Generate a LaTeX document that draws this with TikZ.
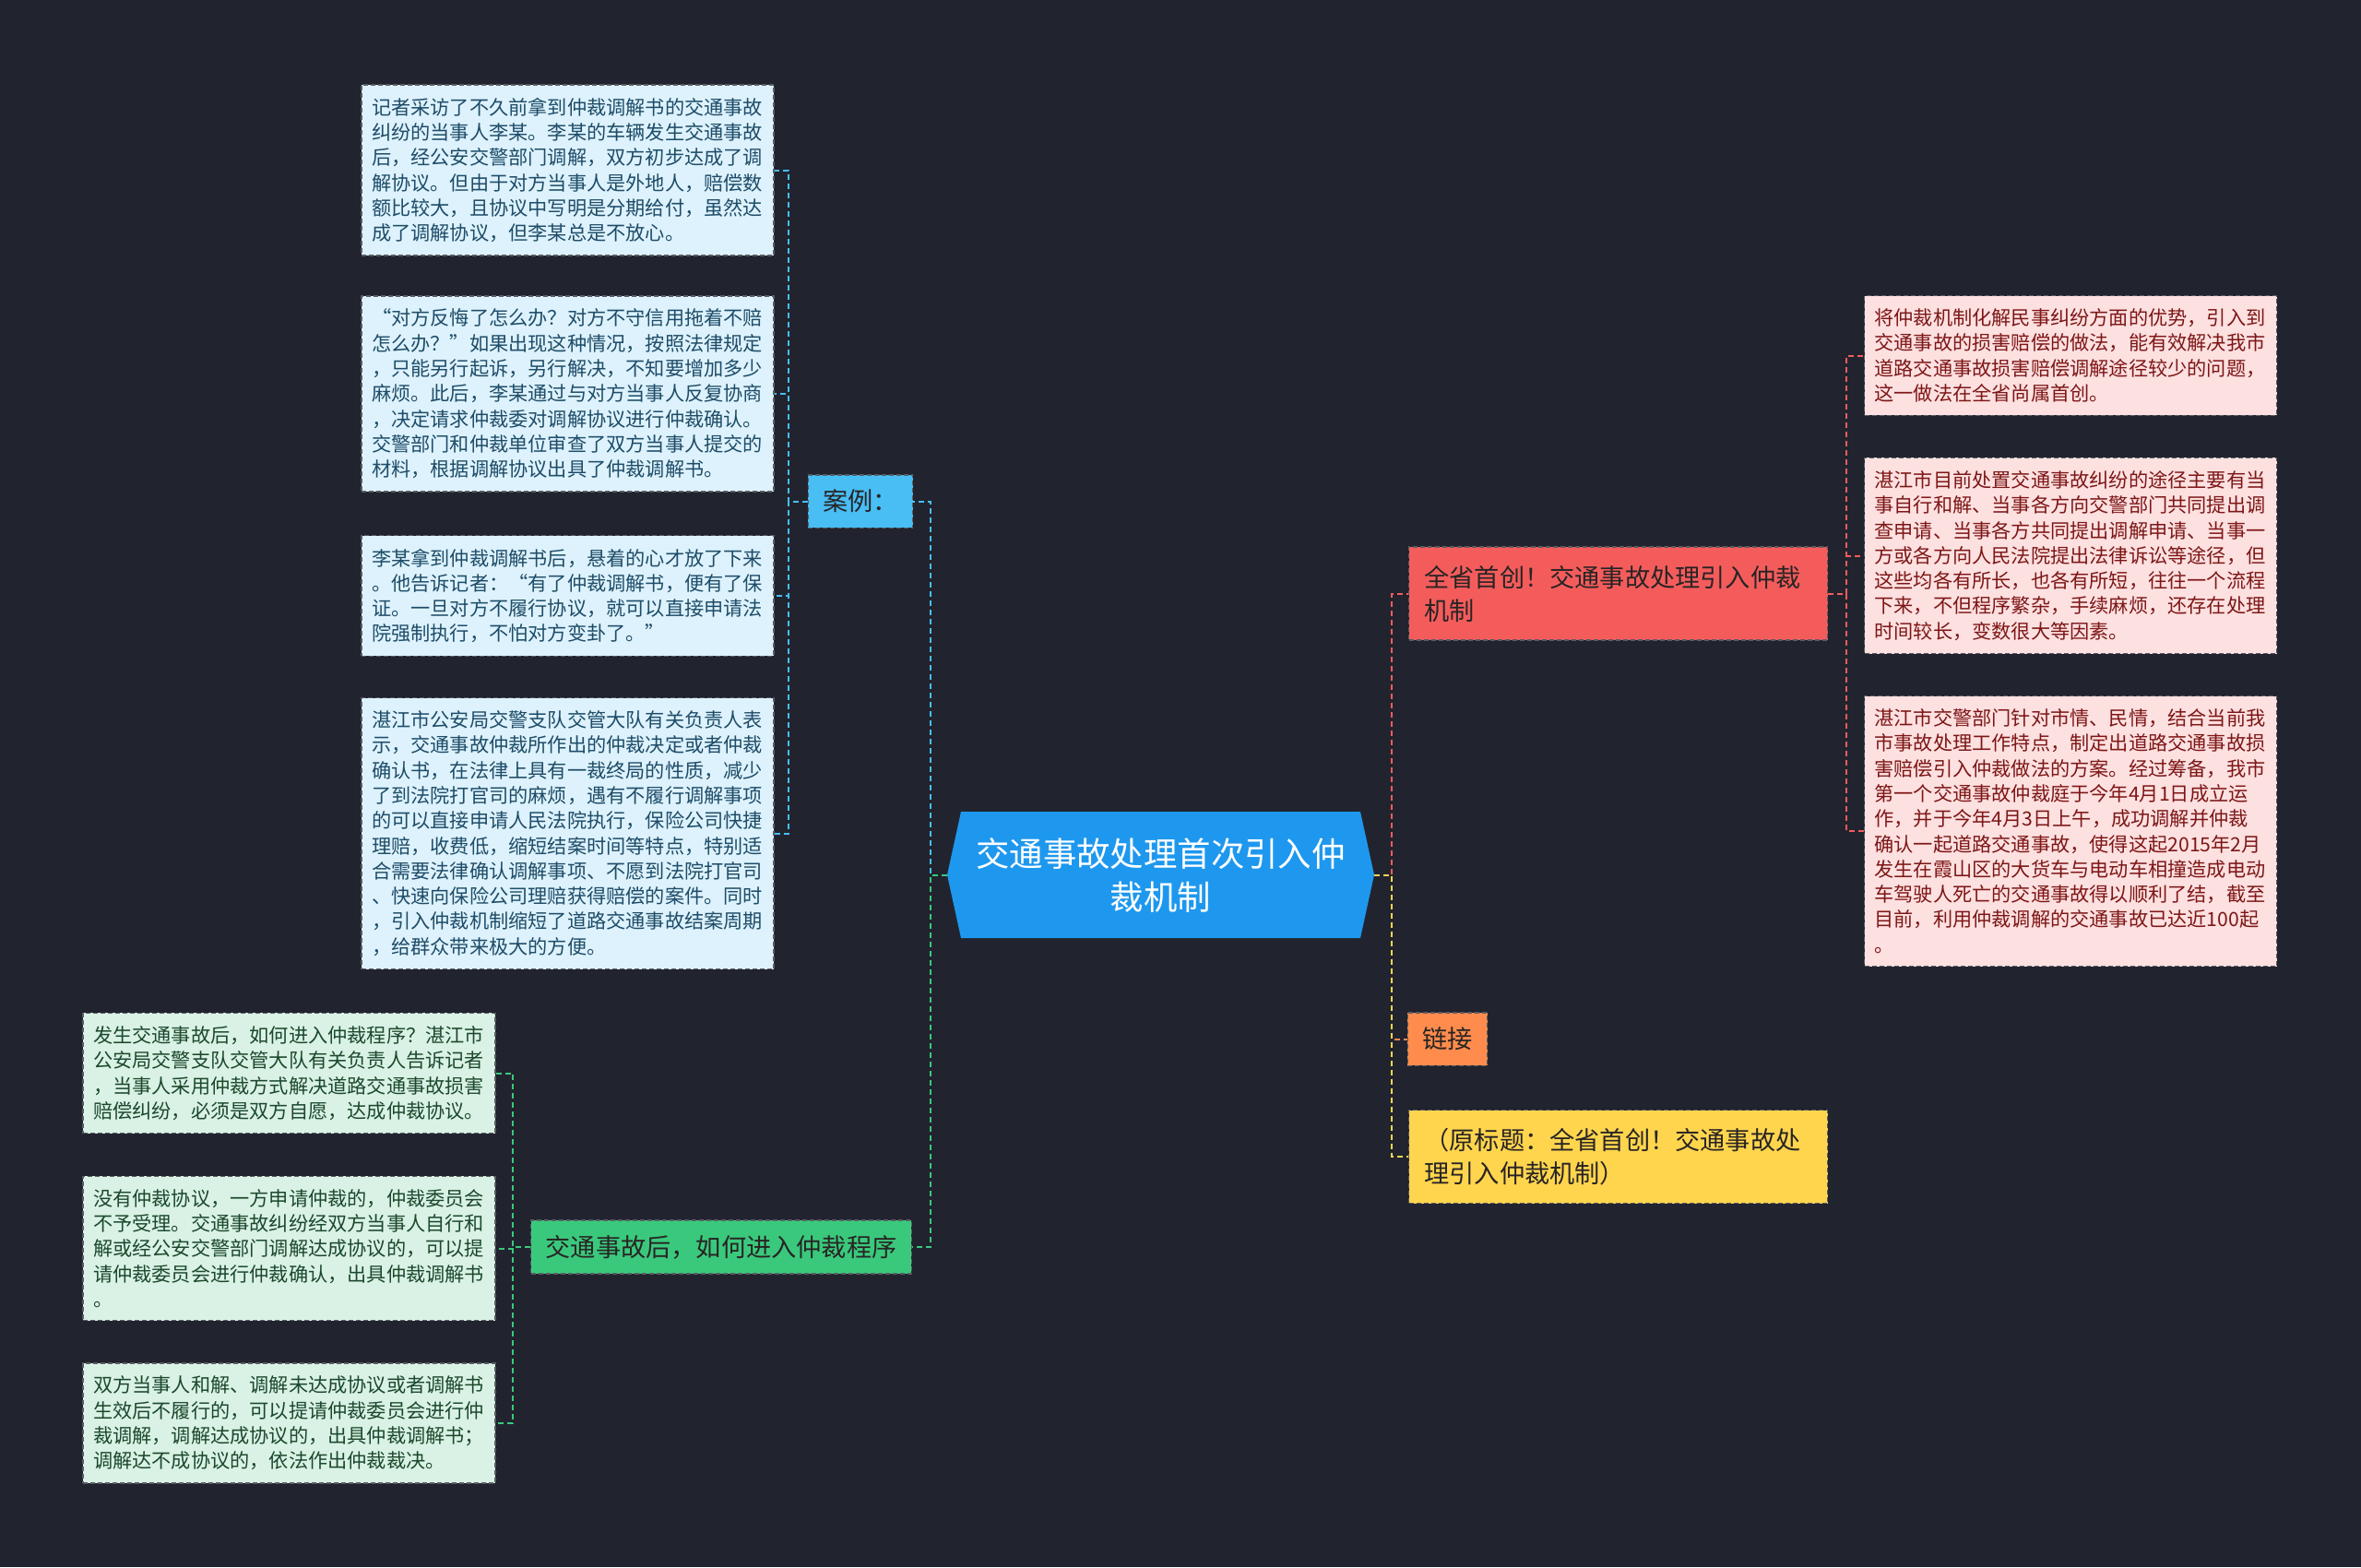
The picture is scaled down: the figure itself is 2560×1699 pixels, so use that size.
\documentclass[tikz,border=0pt]{standalone}
\usepackage{fontspec}
\setmainfont{Noto Sans CJK SC}
\definecolor{cBg}{RGB}{33,36,47}
\definecolor{cRoot}{RGB}{30,152,238}
\definecolor{cBlue}{RGB}{72,190,245}
\definecolor{cBlueFill}{RGB}{221,242,252}
\definecolor{cBlueText}{RGB}{30,76,104}
\definecolor{cGreen}{RGB}{58,201,124}
\definecolor{cGreenFill}{RGB}{217,242,229}
\definecolor{cGreenText}{RGB}{28,72,44}
\definecolor{cRed}{RGB}{244,92,92}
\definecolor{cRedFill}{RGB}{253,224,224}
\definecolor{cRedText}{RGB}{125,22,22}
\definecolor{cOrange}{RGB}{255,140,76}
\definecolor{cYellow}{RGB}{255,213,78}
\definecolor{cMidText}{RGB}{40,36,36}
\definecolor{cEdge}{RGB}{90,92,100}
\begin{document}
\begin{tikzpicture}[x=0.5pt,y=-0.5pt,
    leafbox/.style={draw=cEdge,dash pattern=on 2.5pt off 1.5pt,line width=0.6pt,
      text width=212.5pt,inner xsep=5.5pt,inner ysep=7pt,align=left,
      font=\fontsize{10.6}{13.65}\selectfont},
    midbox/.style={draw=cEdge,dash pattern=on 2.5pt off 1.5pt,line width=0.6pt,
      inner xsep=8pt,inner ysep=8pt,text=cMidText,
      font=\fontsize{13.6}{18}\selectfont},
    widebox/.style={midbox,text width=210pt,inner xsep=8.5pt,align=left,minimum height=50.5pt},
    rootbox/.style={minimum width=231.5pt,minimum height=68.5pt,align=center,text=white,
      font=\fontsize{18.2}{23.5}\selectfont},
    link/.style={line width=1pt,dash pattern=on 3pt off 2pt},
    bline/.style={link,draw=cBlue},
    gline/.style={link,draw=cGreen},
    rline/.style={link,draw=cRed},
    oline/.style={link,draw=cOrange},
    yline/.style={link,draw=cYellow}]
  \path[use as bounding box,fill=cBg] (0,0) rectangle (2560,1699);
  % centre
  \fill[cRoot] (1027,948.5) -- (1042,880) -- (1475,880) -- (1490,948.5)
    -- (1475,1017) -- (1042,1017) -- cycle;
  \node[rootbox] (root) at (1258.5,948.5) {交通事故处理首次引入仲\\裁机制};
  % left side
  \node[midbox,fill=cBlue] (anli) at (933,543.5) {案例：};
  \node[midbox,fill=cGreen] (chengxu) at (782,1352) {交通事故后，如何进入仲裁程序};
  \node[leafbox,fill=cBlueFill,text=cBlueText] (anli1) at (615.5,184.5) {记者采访了不久前拿到仲裁调解书的交通事故\\纠纷的当事人李某。李某的车辆发生交通事故\\后，经公安交警部门调解，双方初步达成了调\\解协议。但由于对方当事人是外地人，赔偿数\\额比较大，且协议中写明是分期给付，虽然达\\成了调解协议，但李某总是不放心。};
  \node[leafbox,fill=cBlueFill,text=cBlueText] (anli2) at (615.5,427) {“对方反悔了怎么办？对方不守信用拖着不赔\\怎么办？”如果出现这种情况，按照法律规定\\，只能另行起诉，另行解决，不知要增加多少\\麻烦。此后，李某通过与对方当事人反复协商\\，决定请求仲裁委对调解协议进行仲裁确认。\\交警部门和仲裁单位审查了双方当事人提交的\\材料，根据调解协议出具了仲裁调解书。};
  \node[leafbox,fill=cBlueFill,text=cBlueText] (anli3) at (615.5,646) {李某拿到仲裁调解书后，悬着的心才放了下来\\。他告诉记者：“有了仲裁调解书，便有了保\\证。一旦对方不履行协议，就可以直接申请法\\院强制执行，不怕对方变卦了。”};
  \node[leafbox,fill=cBlueFill,text=cBlueText] (anli4) at (615.5,903.5) {湛江市公安局交警支队交管大队有关负责人表\\示，交通事故仲裁所作出的仲裁决定或者仲裁\\确认书，在法律上具有一裁终局的性质，减少\\了到法院打官司的麻烦，遇有不履行调解事项\\的可以直接申请人民法院执行，保险公司快捷\\理赔，收费低，缩短结案时间等特点，特别适\\合需要法律确认调解事项、不愿到法院打官司\\、快速向保险公司理赔获得赔偿的案件。同时\\，引入仲裁机制缩短了道路交通事故结案周期\\，给群众带来极大的方便。};
  \node[leafbox,fill=cGreenFill,text=cGreenText] (chengxu1) at (313.5,1163.5) {发生交通事故后，如何进入仲裁程序？湛江市\\公安局交警支队交管大队有关负责人告诉记者\\，当事人采用仲裁方式解决道路交通事故损害\\赔偿纠纷，必须是双方自愿，达成仲裁协议。};
  \node[leafbox,fill=cGreenFill,text=cGreenText] (chengxu2) at (313.5,1353.5) {没有仲裁协议，一方申请仲裁的，仲裁委员会\\不予受理。交通事故纠纷经双方当事人自行和\\解或经公安交警部门调解达成协议的，可以提\\请仲裁委员会进行仲裁确认，出具仲裁调解书\\。};
  \node[leafbox,fill=cGreenFill,text=cGreenText] (chengxu3) at (313.5,1543) {双方当事人和解、调解未达成协议或者调解书\\生效后不履行的，可以提请仲裁委员会进行仲\\裁调解，调解达成协议的，出具仲裁调解书；\\调解达不成协议的，依法作出仲裁裁决。};
  % right side
  \node[widebox,fill=cRed] (shouchuang) at (1754.5,643.5) {全省首创！交通事故处理引入仲裁\\机制};
  \node[midbox,fill=cOrange] (lianjie) at (1569.5,1126.5) {链接};
  \node[widebox,fill=cYellow] (yuanbiaoti) at (1754.5,1254) {（原标题：全省首创！交通事故处\\理引入仲裁机制）};
  \node[leafbox,fill=cRedFill,text=cRedText] (sc1) at (2245,385.5) {将仲裁机制化解民事纠纷方面的优势，引入到\\交通事故的损害赔偿的做法，能有效解决我市\\道路交通事故损害赔偿调解途径较少的问题，\\这一做法在全省尚属首创。};
  \node[leafbox,fill=cRedFill,text=cRedText] (sc2) at (2245,602.5) {湛江市目前处置交通事故纠纷的途径主要有当\\事自行和解、当事各方向交警部门共同提出调\\查申请、当事各方共同提出调解申请、当事一\\方或各方向人民法院提出法律诉讼等途径，但\\这些均各有所长，也各有所短，往往一个流程\\下来，不但程序繁杂，手续麻烦，还存在处理\\时间较长，变数很大等因素。};
  \node[leafbox,fill=cRedFill,text=cRedText] (sc3) at (2245,901) {湛江市交警部门针对市情、民情，结合当前我\\市事故处理工作特点，制定出道路交通事故损\\害赔偿引入仲裁做法的方案。经过筹备，我市\\第一个交通事故仲裁庭于今年4月1日成立运\\作，并于今年4月3日上午，成功调解并仲裁\\确认一起道路交通事故，使得这起2015年2月\\发生在霞山区的大货车与电动车相撞造成电动\\车驾驶人死亡的交通事故得以顺利了结，截至\\目前，利用仲裁调解的交通事故已达近100起\\。};
  % connectors
  \draw[bline] (root.west) -- ++(-18,0) |- (anli.east);
  \draw[gline] (root.west) -- ++(-18,0) |- (chengxu.east);
  \foreach \i in {1,...,4}
    \draw[bline] (anli.west) -- ++(-21,0) |- (anli\i.east);
  \foreach \i in {1,2,3}
    \draw[gline] (chengxu.west) -- ++(-19,0) |- (chengxu\i.east);
  \draw[rline] (root.east) -- ++(19,0) |- (shouchuang.west);
  \draw[oline] (root.east) -- ++(19,0) |- (lianjie.west);
  \draw[yline] (root.east) -- ++(19,0) |- (yuanbiaoti.west);
  \foreach \i in {1,2,3}
    \draw[rline] (shouchuang.east) -- ++(20,0) |- (sc\i.west);
\end{tikzpicture}
\end{document}
